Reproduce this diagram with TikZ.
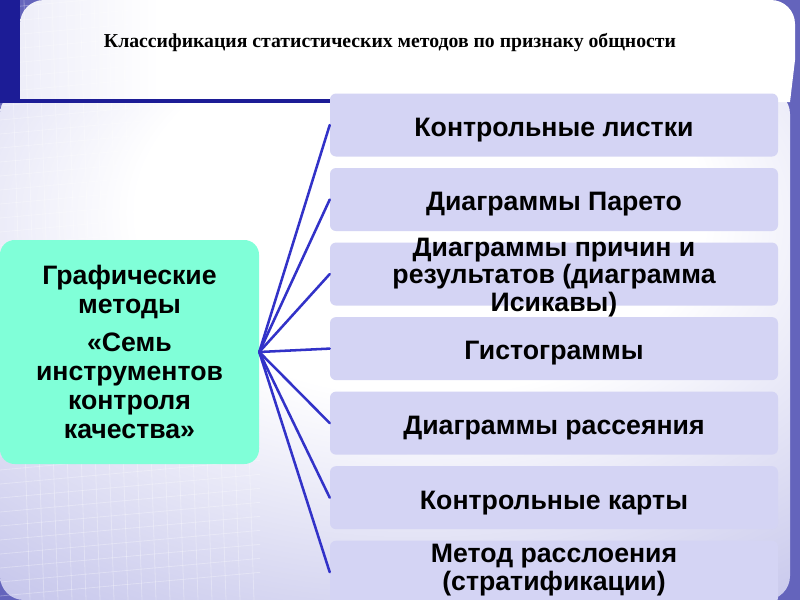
\documentclass[tikz,border=0pt]{standalone}
\usepackage{fontspec}
\setmainfont{Liberation Sans}
\newfontfamily\titlefont{Liberation Serif}
\usetikzlibrary{positioning}
\definecolor{slidebg}{RGB}{100,100,188}
\definecolor{framedark}{RGB}{28,28,150}
\definecolor{bandleft}{RGB}{190,190,232}
\definecolor{bandright}{RGB}{118,118,198}
\definecolor{mainedge}{RGB}{200,200,236}
\definecolor{maindark}{RGB}{100,100,186}
\definecolor{aqua}{RGB}{128,255,216}
\definecolor{lavbox}{RGB}{212,212,244}
\definecolor{linkblue}{RGB}{50,50,200}
\pgfdeclarehorizontalshading{titleband}{100bp}{color(0bp)=(bandleft); color(34bp)=(white); color(78bp)=(white); color(100bp)=(bandright)}
\pgfdeclareradialshading{mainback}{\pgfpoint{2bp}{16bp}}{color(0bp)=(white); color(18bp)=(white); color(42bp)=(mainedge); color(80bp)=(maindark); color(100bp)=(maindark)}
\newcommand{\overlines}[1]{\smash{\begin{tabular}{@{}c@{}}#1\end{tabular}}}

\begin{document}
\begin{tikzpicture}[x=0.75pt,y=-0.75pt,line cap=round,line join=round,
  methodbox/.style={fill=lavbox,rounded corners=4.5pt,minimum width=336pt,minimum height=47.25pt,
    inner sep=0pt,align=center,text height=17pt,text depth=0pt,font=\bfseries\fontsize{20}{20.5}\selectfont},
  groupbox/.style={fill=aqua,rounded corners=11pt,minimum width=194.25pt,minimum height=168pt,
    inner sep=0pt,align=center,font=\bfseries\fontsize{20}{21.75}\selectfont},
  gridline/.style={white,opacity=0.3,line width=0.6pt},
  link/.style={draw=linkblue,line width=1.9pt}]
\useasboundingbox (0,0) rectangle (800,600);
% background of the slide
\fill[slidebg] (0,0) rectangle (800,600);
\shade[shading=mainback,rounded corners=18pt] (0,90) -- (790,90) -- (790,600) -- (0,600) -- cycle;
\shade[shading=titleband] (20,102) [rounded corners=18pt] -- (20,0) -- (795,0) [sharp corners] -- (795,60) -- (790,102) -- cycle;
\begin{scope}
  \clip (20,0) rectangle (330,100) (0,103) rectangle (260,600);
  \foreach \x in {10,24,...,260}
    \draw[gridline] (\x,0) -- (\x+20,600);
  \foreach \y in {8,22,...,600}
    \draw[gridline] (0,\y) -- (330,\y-30);
\end{scope}
\fill[framedark] (0,0) rectangle (20,100);
\draw[framedark,line width=2.6pt,line cap=butt] (0,101) -- (340,101);
% title
\node[font=\titlefont\bfseries\fontsize{14.8}{18}\selectfont] (title) at (390,43) {Классификация статистических методов по признаку общности};
% left group
\node[groupbox] (grafic) at (129.5,352) {Графические\\методы\\[7pt]«Семь\\инструментов\\контроля\\качества»};
\coordinate (hub) at (grafic.east);
% methods
\node[methodbox] (m1) at (554,125) {Контрольные листки};
\node[methodbox,below=8.25pt of m1] (m2) {Диаграммы Парето};
\node[methodbox,below=8.25pt of m2] (m3) {\overlines{Диаграммы причин и\\результатов (диаграмма\\Исикавы)}};
\node[methodbox,below=8.25pt of m3] (m4) {Гистограммы};
\node[methodbox,below=8.25pt of m4] (m5) {Диаграммы рассеяния};
\node[methodbox,below=8.25pt of m5] (m6) {Контрольные карты};
\node[methodbox,below=8.25pt of m6] (m7) {\raisebox{4pt}{\overlines{Метод расслоения\\(стратификации)}}};
\foreach \i in {1,...,7}
  \draw[link] (hub) -- (m\i.west);
\end{tikzpicture}
\end{document}
